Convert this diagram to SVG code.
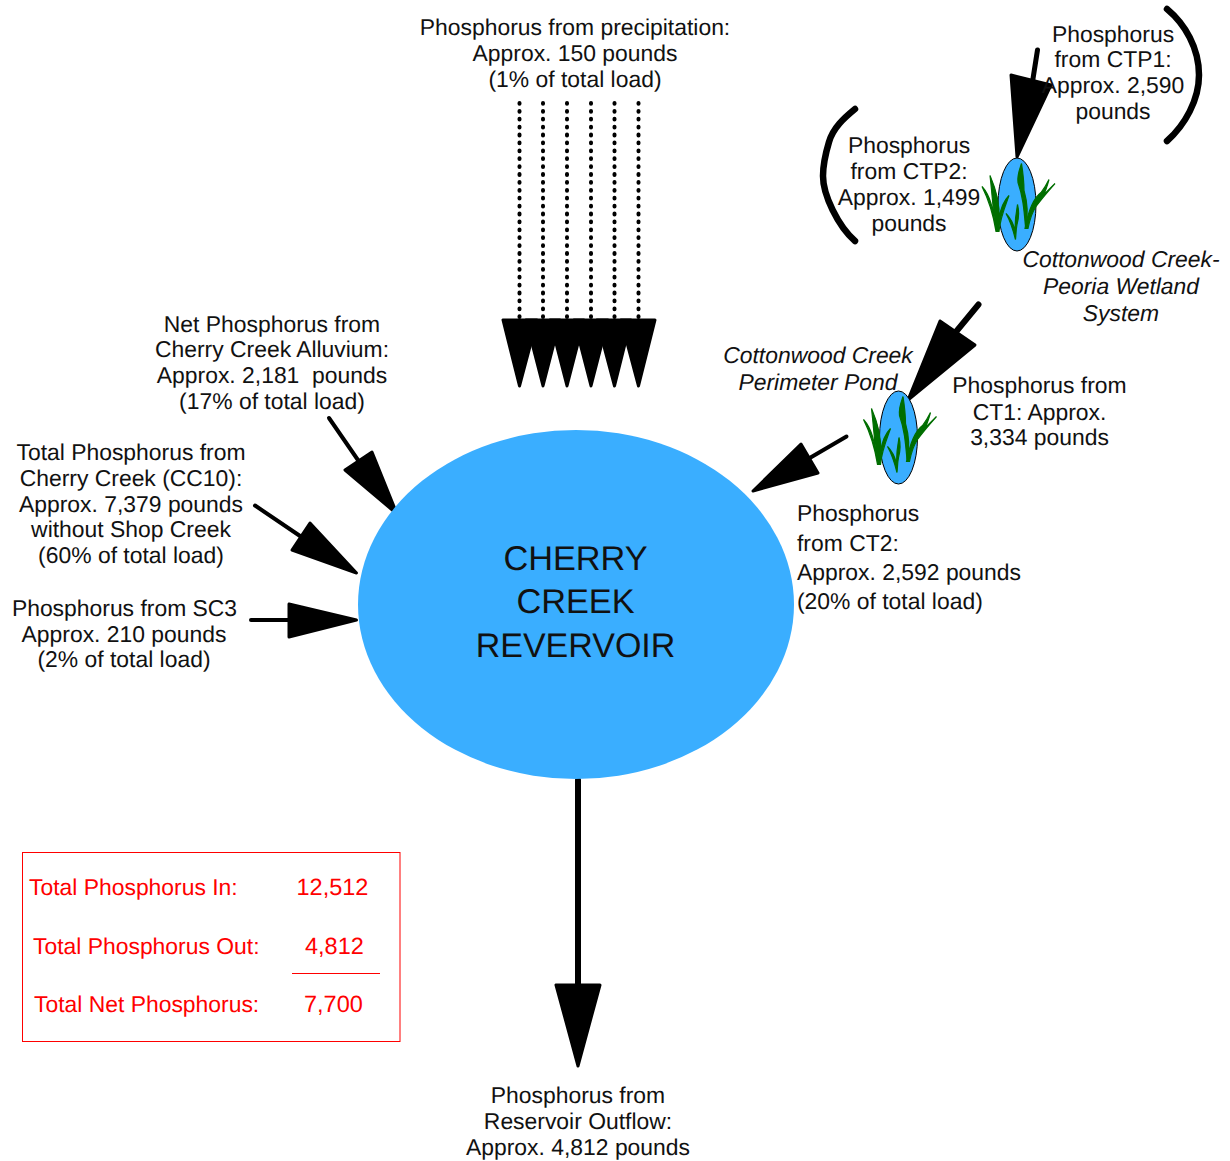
<svg xmlns="http://www.w3.org/2000/svg" width="1230" height="1161" viewBox="0 0 1230 1161">
<style>
text{font-family:"Liberation Sans",Arial,sans-serif;font-size:22.9px;fill:#111;text-anchor:middle;text-rendering:geometricPrecision;white-space:pre}
.i{font-style:italic}
.l{text-anchor:start}
.r{fill:#f00;text-anchor:start}
.n{font-size:23.500px}
.s{stroke:#000;stroke-width:5;stroke-linecap:round;fill:none}
.h{fill:#000;stroke:#000;stroke-width:3;stroke-linejoin:round}
.d{stroke:#000;stroke-width:4;stroke-dasharray:0.8 7.1;stroke-linecap:round;fill:none}
.b{stroke:#000;stroke-width:6.500;stroke-linecap:round;stroke-linejoin:round;fill:none}
.g{fill:#006e00;stroke:#006e00;stroke-width:1.200}
.w{fill:#3aaeff;stroke:#000;stroke-width:1}
</style>
<defs>
<g id="grass">
<path class="g" d="M-21 27 C-24 5 -25 -12 -27 -29 C-21 -15 -17 -2 -18 14 C-16 2 -12 -5 -8 -9 C-12 2 -17 14 -18 27 L-21 27 C-24 8 -29 -6 -35 -18 C-27 -9 -24 2 -21 27Z"/>
<path class="g" d="M8.500 22 C7 5 6 -8 1 -22 C0 -30 3 -36 4.500 -41 C7 -25 7 -18 7 -14 C11 0 11 12 8.500 22Z"/>
<path class="g" d="M8 24 C11 8 16 -6 24 -12 C28 -17 30 -21 32 -25 C29 -14 28 -12 26 -9 C30 -13 34 -17 38 -21 C30 -12 24 -5 19 2 C15 8 13 14 11 24Z"/>
<path class="g" d="M-1.500 35 C-4 25 -7 16 -11 9 C-5 15 -3 22 -2 26 C-2 17 -1 8 0.500 0 C2 6 2 13 0 20 C-1 25 -1 30 -1.500 35Z"/>
</g>
</defs>
<g id="connectors">
<line class="d" x1="519.500" y1="103" x2="519.500" y2="320"/>
<line class="d" x1="543" y1="103" x2="543" y2="320"/>
<line class="d" x1="567" y1="103" x2="567" y2="320"/>
<line class="d" x1="591" y1="103" x2="591" y2="320"/>
<line class="d" x1="614.500" y1="103" x2="614.500" y2="320"/>
<line class="d" x1="638.500" y1="103" x2="638.500" y2="320"/>
<polygon class="h" points="503,320 537,320 519.500,386"/>
<polygon class="h" points="526,320 560,320 543,386"/>
<polygon class="h" points="550,320 584,320 567,386"/>
<polygon class="h" points="574,320 608,320 591,386"/>
<polygon class="h" points="597,320 631,320 614.500,386"/>
<polygon class="h" points="621,320 655,320 638.500,386"/>
<line class="s" x1="329" y1="418" x2="360" y2="463" style="stroke-width:4"/>
<polygon class="h" points="345,470 372,452 397,514"/>
<line class="s" x1="255" y1="505.500" x2="303" y2="538" style="stroke-width:4"/>
<polygon class="h" points="292,550 310,523 356.500,573"/>
<line class="s" x1="251" y1="620" x2="292" y2="620" style="stroke-width:4"/>
<polygon class="h" points="289,604 289,637 356.500,620"/>
<line class="s" x1="578" y1="780" x2="578" y2="988" style="stroke-width:6"/>
<polygon class="h" points="556,985 600,985 578,1066"/>
<line class="s" x1="1037.500" y1="50" x2="1032" y2="85"/>
<polygon class="h" points="1011,75 1051,85 1017,157"/>
<line class="s" x1="978.500" y1="304.500" x2="955" y2="333" style="stroke-width:6"/>
<polygon class="h" points="940,321 975,345 908,400"/>
<line class="s" x1="846.500" y1="436.500" x2="808" y2="459" style="stroke-width:4"/>
<polygon class="h" points="801,444 818,473 753,491"/>
<path class="b" d="M1167 9 C1185 24 1199 48 1199 75 C1199 100 1185 125 1167 141"/>
<path class="b" d="M855 109 C844 118 833 128 829 142 C826 152 823 165 823 176 C823 195 838 226 855 241"/>
</g>
<g id="reservoir">
<ellipse cx="576" cy="604.500" rx="218" ry="174.500" fill="#3aaeff"/>
<text x="575.500" y="570" style="font-size:34.300px">CHERRY</text>
<text x="575.500" y="613" style="font-size:34.300px">CREEK</text>
<text x="575.500" y="657" style="font-size:34px">REVERVOIR</text>
</g>
<g id="wetland-peoria">
<ellipse class="w" cx="1017" cy="204.500" rx="19" ry="46.500"/>
<use href="#grass" x="1017" y="204.500"/>
</g>
<g id="wetland-perimeter">
<ellipse class="w" cx="898.500" cy="437.500" rx="19" ry="46.500"/>
<use href="#grass" x="898.500" y="437.500"/>
</g>
<g id="label-precipitation">
<text x="575" y="35">Phosphorus from precipitation:</text>
<text x="575" y="61">Approx. 150 pounds</text>
<text x="575" y="87">(1% of total load)</text>
</g>
<g id="label-ctp1">
<text x="1113" y="42">Phosphorus</text>
<text x="1113" y="67">from CTP1:</text>
<text x="1113" y="93">Approx. 2,590</text>
<text x="1113" y="119">pounds</text>
</g>
<g id="label-ctp2">
<text x="909" y="153">Phosphorus</text>
<text x="909" y="179">from CTP2:</text>
<text x="909" y="205">Approx. 1,499</text>
<text x="909" y="231">pounds</text>
</g>
<g id="label-peoria">
<text class="i" x="1121" y="267">Cottonwood Creek-</text>
<text class="i" x="1121" y="294">Peoria Wetland</text>
<text class="i" x="1121" y="321">System</text>
</g>
<g id="label-perimeter">
<text class="i" x="818" y="363">Cottonwood Creek</text>
<text class="i" x="818" y="390">Perimeter Pond</text>
</g>
<g id="label-ct1">
<text x="1039.500" y="393">Phosphorus from</text>
<text x="1039.500" y="420">CT1: Approx.</text>
<text x="1039.500" y="445">3,334 pounds</text>
</g>
<g id="label-ct2">
<text class="l" x="797" y="521">Phosphorus</text>
<text class="l" x="797" y="551">from CT2:</text>
<text class="l" x="797" y="580">Approx. 2,592 pounds</text>
<text class="l" x="797" y="609">(20% of total load)</text>
</g>
<g id="label-alluvium">
<text x="272" y="332">Net Phosphorus from</text>
<text x="272" y="357">Cherry Creek Alluvium:</text>
<text x="272" y="383">Approx. 2,181  pounds</text>
<text x="272" y="409">(17% of total load)</text>
</g>
<g id="label-cc10">
<text x="131" y="460">Total Phosphorus from</text>
<text x="131" y="486">Cherry Creek (CC10):</text>
<text x="131" y="512">Approx. 7,379 pounds</text>
<text x="131" y="537">without Shop Creek</text>
<text x="131" y="563">(60% of total load)</text>
</g>
<g id="label-sc3">
<text x="124.500" y="616">Phosphorus from SC3</text>
<text x="124" y="642">Approx. 210 pounds</text>
<text x="124" y="667">(2% of total load)</text>
</g>
<g id="label-outflow">
<text x="578" y="1103">Phosphorus from</text>
<text x="578" y="1129">Reservoir Outflow:</text>
<text x="578" y="1155">Approx. 4,812 pounds</text>
</g>
<g id="totals">
<rect x="22.500" y="852.500" width="377.500" height="189" fill="none" stroke="#f00" stroke-width="1"/>
<line x1="292" y1="973.500" x2="380" y2="973.500" stroke="#f00" stroke-width="1"/>
<text class="r" x="29" y="895">Total Phosphorus In:</text>
<text class="r n" x="296.500" y="895">12,512</text>
<text class="r" x="33" y="954">Total Phosphorus Out:</text>
<text class="r n" x="305" y="954">4,812</text>
<text class="r" x="34" y="1012">Total Net Phosphorus:</text>
<text class="r n" x="304" y="1012">7,700</text>
</g>
</svg>
